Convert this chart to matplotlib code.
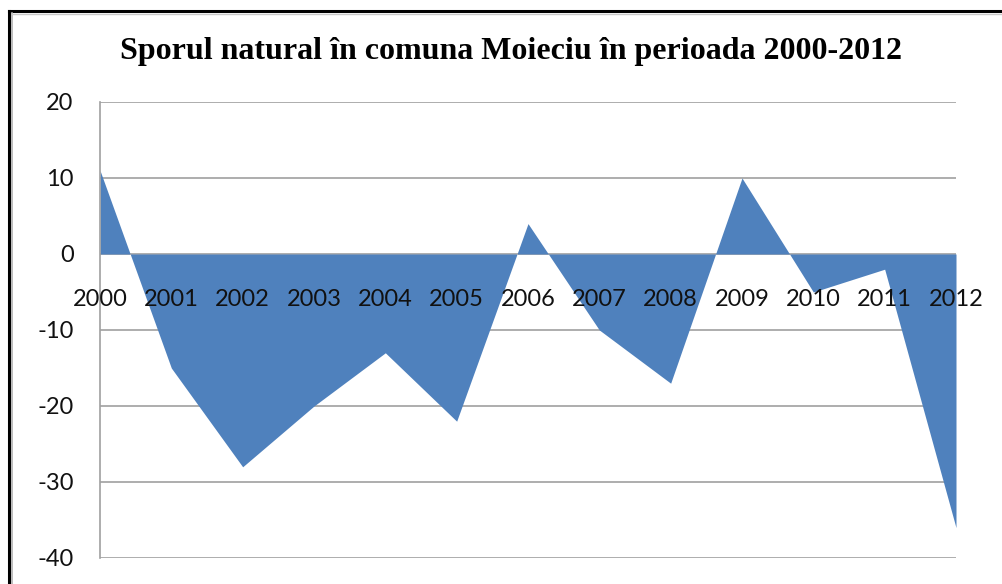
import matplotlib
matplotlib.use("Agg")
import matplotlib.pyplot as plt
from matplotlib.lines import Line2D

years = ["2000", "2001", "2002", "2003", "2004", "2005", "2006",
         "2007", "2008", "2009", "2010", "2011", "2012"]
values = [11, -15, -28, -20, -13, -22, 4, -10, -17, 10, -5, -2, -36]
y_ticks = [20, 10, 0, -10, -20, -30, -40]
title = "Sporul natural în comuna Moieciu în perioada 2000-2012"

W, H = 1002, 584
fig = plt.figure(figsize=(W / 100, H / 100), dpi=100)
fig.patch.set_facecolor("white")

ax = fig.add_axes([100 / W, 1 - 558 / H, (956 - 100) / W, (558 - 102) / H])
ax.spines["bottom"].set_position(("data", 0))
ax.spines["bottom"].set_visible(False)
for s in ["top", "right"]:
    ax.spines[s].set_visible(False)
ax.spines["left"].set_color("#A0A0A0")
ax.spines["left"].set_linewidth(1.2)

x = list(range(len(years)))
for v in y_ticks:
    ax.axhline(v, color="#A0A0A0", linewidth=1.2, zorder=1)
ax.fill_between(x, values, 0, color="#4F81BD", linewidth=0, zorder=2)

ax.set_xlim(0, len(years) - 1)
ax.set_ylim(-40, 20)
ax.set_yticks(y_ticks)
ax.set_yticklabels([str(v) for v in y_ticks], fontsize=17, family="Lato")
ax.set_xticks(x)
ax.set_xticklabels(years, fontsize=17, family="Lato")
ax.set_axisbelow(False)
ax.xaxis.set_zorder(3)
ax.yaxis.set_zorder(3)
ax.tick_params(axis="x", length=0, pad=25, labelcolor="#111111")
ax.tick_params(axis="y", length=0, pad=19, labelcolor="#111111")

fig.text(511 / W, 1 - 52 / H, title, ha="center", va="center",
         fontsize=23, fontweight="bold", family="Liberation Serif")

# outer frame (top and left edges) with a light shadow
fig.add_artist(Line2D([9 / W, 1], [1 - 11 / H, 1 - 11 / H], color="black", linewidth=2.2, transform=fig.transFigure))
fig.add_artist(Line2D([9 / W, 9 / W], [0, 1 - 11 / H], color="black", linewidth=2.2, transform=fig.transFigure))
fig.add_artist(Line2D([11.5 / W, 11.5 / W], [0, 1 - 13 / H], color="#B0B0B0", linewidth=1.2, transform=fig.transFigure))
fig.add_artist(Line2D([11.5 / W, 1], [1 - 13.5 / H, 1 - 13.5 / H], color="#C8C8C8", linewidth=1.0, transform=fig.transFigure))

fig.savefig("out.png", dpi=100, facecolor="white")
